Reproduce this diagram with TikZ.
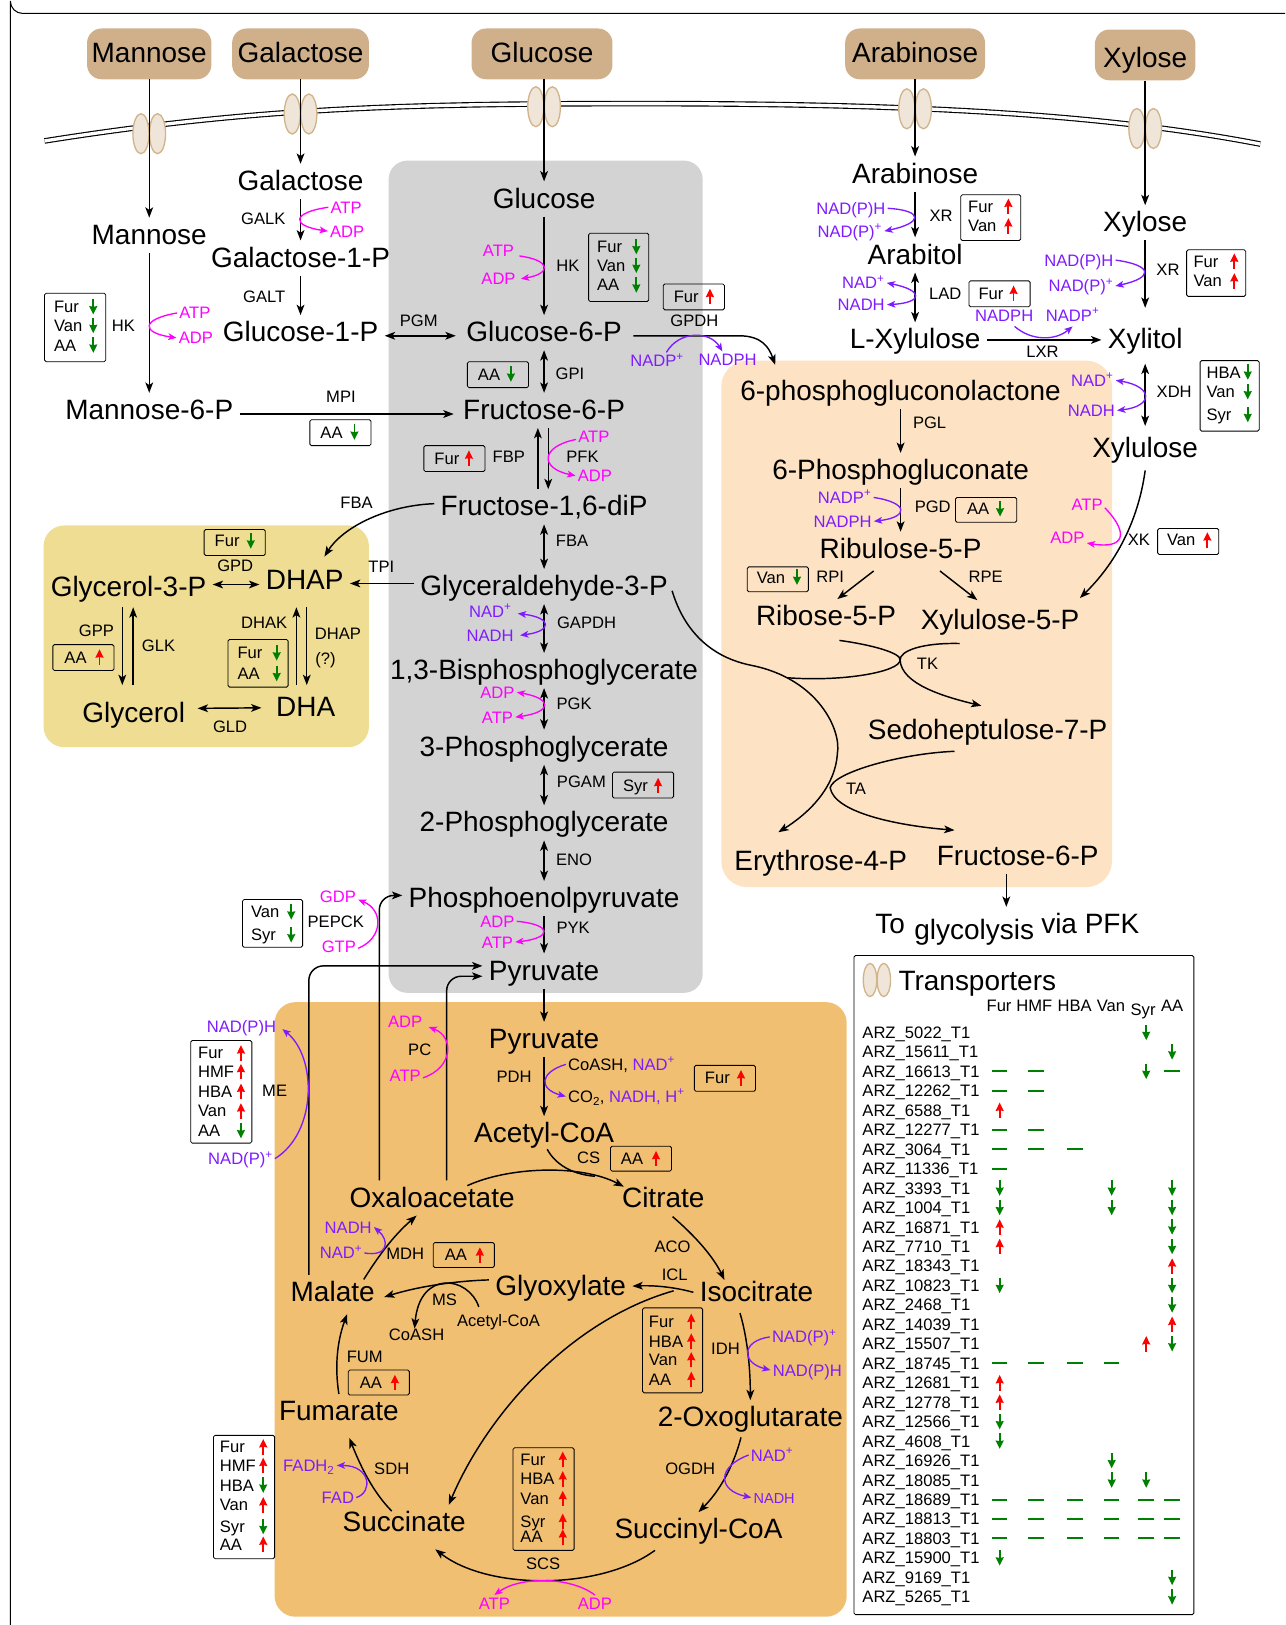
\documentclass[tikz,border=0pt]{standalone}
\usepackage{fontspec}
\setmainfont{Liberation Sans}
\usepackage{xcolor}
\definecolor{sugartan}{HTML}{CFB08A}
\definecolor{chanfill}{HTML}{EFE6D9}
\definecolor{chanedge}{HTML}{D2B48C}
\definecolor{glyco}{HTML}{D3D3D3}
\definecolor{pentose}{HTML}{FDE3C3}
\definecolor{glycerol}{HTML}{EEDD92}
\definecolor{tca}{HTML}{F0BF71}
\definecolor{cofmag}{HTML}{FF00FF}
\definecolor{cofpur}{HTML}{7F1BFF}
\definecolor{geneup}{HTML}{FF0000}
\definecolor{genedn}{HTML}{008000}
\usetikzlibrary{arrows.meta, shapes.geometric}
\newcommand{\pos}{\textsuperscript{+}}
% left, top, right, bottom, text inset, arrow x, rows (label/dir/y)
\newcommand{\exbox}[7]{%
  \draw[exprbox] (#1,#2) rectangle (#3,#4);
  \foreach \lab/\dir/\yy in {#7}{
    \node[exprtext] (\lab#1) at (#1+#5,\yy) {\lab};
    \draw[gene \dir] (#6,\yy-7.5) -- (#6,\yy+7.5);
  }
}
\tikzset{
  met/.style={font=\fontsize{27}{30}\selectfont, text height=19.5pt, text depth=2pt,
    inner xsep=6pt, inner ysep=6pt, yshift=-1pt},
  sugar/.style={font=\fontsize{27}{30}\selectfont, fill=sugartan, rounded corners=14pt,
    text height=19.5pt, text depth=3.5pt, inner sep=0pt, minimum height=49pt},
  enz/.style={font=\fontsize{16}{18}\selectfont, text height=11.5pt, text depth=0pt, inner sep=0pt},
  cof m/.style={enz, text=cofmag, inner sep=2pt},
  cof p/.style={enz, text=cofpur, inner sep=2pt},
  legrow/.style={enz, anchor=west},
  exprtext/.style={enz, anchor=west},
  exprbox/.style={draw=black, line width=0.8pt, rounded corners=1.5pt},
  channel/.style={ellipse, draw=chanedge, fill=chanfill, line width=1.3pt, inner sep=0pt,
    minimum width=15.5pt, minimum height=38.6pt},
  rxn/.style={line width=1.4pt, -{Stealth[length=10pt,width=7.5pt,inset=2.5pt]}},
  rxnb/.style={line width=1.4pt, {Stealth[length=10pt,width=7.5pt,inset=2.5pt]}-{Stealth[length=10pt,width=7.5pt,inset=2.5pt]}},
  arcm/.style={line width=1.3pt, cofmag, -{Stealth[length=8pt,width=6.5pt,inset=2pt]}},
  arcp/.style={line width=1.3pt, cofpur, -{Stealth[length=8pt,width=6.5pt,inset=2pt]}},
  arcmb/.style={line width=1.3pt, cofmag, {Stealth[length=8pt,width=6.5pt,inset=2pt]}-{Stealth[length=8pt,width=6.5pt,inset=2pt]}},
  arcpb/.style={line width=1.3pt, cofpur, {Stealth[length=8pt,width=6.5pt,inset=2pt]}-{Stealth[length=8pt,width=6.5pt,inset=2pt]}},
  gene u/.style={line width=1.8pt, geneup, {Stealth[length=8pt,width=7.5pt,inset=0.5pt]}-},
  gene d/.style={line width=1.8pt, genedn, -{Stealth[length=8pt,width=7.5pt,inset=0.5pt]}},
  gene f/.style={line width=2pt, genedn}
}
\begin{document}
\begin{tikzpicture}[x=1pt, y=-1pt]
  \useasboundingbox (0,0) rectangle (1240,1568);
  % frame and compartments
  \draw[line width=1pt] (1240,13) -- (22,13) arc[start angle=90, end angle=180, radius=12] -- (10,1568);
  \fill[glyco, rounded corners=18pt] (375,155) rectangle (678,958);
  \fill[pentose, rounded corners=25pt] (696,348) rectangle (1073,856);
  \fill[glycerol, rounded corners=20pt] (42,507) rectangle (356,721);
  \fill[tca, rounded corners=20pt] (265,967) rectangle (817,1560);
  \draw[line width=1.1pt, double=white, double distance=3.2pt]
    (43,136) .. controls (250,103) and (400,100) .. (620,100) .. controls (850,100) and (1050,107) .. (1216,139);

  % channels
  \foreach \cx/\cy [count=\i] in {144/129,290/110,525/103,883/105,1105/124}{
    \node[channel] (chL\i) at (\cx-8,\cy) {};
    \node[channel] (chR\i) at (\cx+8,\cy) {};
  }

  % sugars outside
  \foreach \name/\x/\y/\w/\txt in {manOut/144/52/120/Mannose, galOut/290/52/132/Galactose,
      gluOut/523/52/136/Glucose, araOut/883/52/135/Arabinose}{
    \node[sugar, minimum width=\w pt] (\name) at (\x,\y) {\txt};
  }
  \node[sugar, minimum width=97pt, text height=23.5pt, text depth=0pt] (xylOut) at (1105,53) {Xylose};

  % metabolites
  \foreach \name/\x/\y/\txt in {
      man/144/226/Mannose, m6p/144/395/Mannose-6-P,
      gal/290/174/Galactose, gal1p/290/248/Galactose-1-P, glc1p/290/320/Glucose-1-P,
      glu/525/191/Glucose, g6p/525/320/Glucose-6-P, f6p/525/395/Fructose-6-P,
      f16/525/488/{Fructose-1,6-diP}, gap/525/565/Glyceraldehyde-3-P,
      bpg/525/646/{1,3-Bisphosphoglycerate}, pg3/525/720/3-Phosphoglycerate,
      pg2/525/793/2-Phosphoglycerate, pep/525/866/Phosphoenolpyruvate, pyr/525/936/Pyruvate,
      ara/883/167/Arabinose, arl/883/245/Arabitol, lxy/883/327/L-Xylulose,
      xyl/1105/214/Xylose, xyt/1105/327/Xylitol, xlu/1105/432/Xylulose,
      lac/869/377/6-phosphogluconolactone, pgn/869/453/6-Phosphogluconate,
      ru5/869/529/Ribulose-5-P, r5p/797/594/Ribose-5-P, x5p/965/598/Xylulose-5-P,
      s7p/953/704/Sedoheptulose-7-P, e4p/792/830/Erythrose-4-P, f6q/982/825/Fructose-6-P,
      toA/859/891/To, toB/940/897/glycolysis, toC/1052/891/via PFK,
      g3p/124/566/Glycerol-3-P, dhap/294/559/DHAP, gly/129/687/Glycerol, dha/295/682/DHA,
      pyq/525/1002/Pyruvate, aco/525/1093/Acetyl-CoA, oxa/417/1155/Oxaloacetate,
      cit/640/1155/Citrate, mal/321/1246/Malate, glx/541/1240/Glyoxylate,
      iso/730/1246/Isocitrate, fum/327/1361/Fumarate, oxo/724/1367/2-Oxoglutarate,
      suc/390/1468/Succinate, sco/674/1475/Succinyl-CoA, trT/943/946/Transporters}{
    \node[met] (\name) at (\x,\y) {\txt};
  }

  % enzymes
  \foreach \name/\x/\y/\txt in {
      eGalk/254/211/GALK, eGalt/255/286/GALT, ePgm/404/309/PGM, eHkm/119/314/HK, eHkg/548/256/HK,
      eGpdh/670/309/GPDH, eGpi/550/360/GPI, eMpi/329/383/MPI, eFbp/491/441/FBP, ePfk/562/441/PFK,
      eFbaL/344/485/FBA, eFba/552/522/FBA, eGpd/227/546/GPD, eTpi/368/547/TPI, eGpp/93/608/GPP,
      eGlk/153/623/GLK, eDhak/255/601/DHAK, eDhap/326/611/DHAP, eQ/314/635/(?), eGld/222/701/GLD,
      eGapdh/566/601/GAPDH, ePgk/554/679/PGK, ePgam/561/754/PGAM, eEno/554/829/ENO,
      ePepck/324/889/PEPCK, ePyk/553/895/PYK, ePc/405/1013/PC, eMe/265/1052/ME, ePdh/496/1039/PDH,
      eCs/568/1117/CS, eAco/649/1203/ACO, eIcl/651/1230/ICL, eMdh/391/1210/MDH, eMs/429/1254/MS,
      acS/481/1274/Acetyl-CoA, coaS/402/1288/CoASH, eFum/352/1309/FUM, eIdh/700/1301/IDH,
      eOgdh/666/1417/OGDH, eSdh/378/1417/SDH, eScs/524/1509/SCS, eXra/908/208/XR, eLad/912/283/LAD,
      eLxr/1006/339/LXR, eXrx/1127/260/XR, eXdh/1133/378/XDH, eXk/1099/521/XK, ePgl/897/408/PGL,
      ePgd/900/489/PGD, eRpi/801/556/RPI, eRpe/951/556/RPE, eTk/895/640/TK, eTa/826/761/TA}{
    \node[enz] (\name) at (\x,\y) {\txt};
  }

  % cofactors
  \foreach \name/\x/\y/\txt in {
      atpGalk/334/200/ATP, adpGalk/335/223/ADP, atpMan/188/302/ATP, adpMan/189/326/ADP,
      atpHk/481/242/ATP, adpHk/481/269/ADP, atpPfk/573/421/ATP, adpPfk/574/459/ADP,
      adpPgk/480/668/ADP, atpPgk/480/692/ATP, adpPyk/480/889/ADP, atpPyk/480/909/ATP,
      gdpPck/326/865/GDP, gtpPck/327/913/GTP, adpPc/391/986/ADP, atpPc/391/1038/ATP,
      atpScs/477/1547/ATP, adpScs/574/1547/ADP, atpXk/1049/487/ATP, adpXk/1030/519/ADP}{
    \node[cof m] (\name) at (\x,\y) {\txt};
  }
  \foreach \name/\x/\y/\txt in {
      nadpG/634/348/{NADP\pos}, nadphG/702/347/NADPH, nadGa/473/590/{NAD\pos}, nadhGa/473/613/NADH,
      meH/233/991/NAD(P)H, mePos/232/1118/{NAD(P)\pos}, nadMd/329/1209/{NAD\pos}, nadhMd/336/1184/NADH,
      fadh/298/1414/{FADH\textsubscript{2}}, fad/326/1445/FAD, nadOg/745/1404/{NAD\pos},
      idhPos/776/1290/{NAD(P)\pos}, idhH/779/1322/NAD(P)H, arH/821/201/NAD(P)H, arPos/820/223/{NAD(P)\pos},
      nadLad/833/273/{NAD\pos}, nadhLad/831/294/NADH, nadphLx/969/304/NADPH, nadpLx/1035/304/{NADP\pos},
      xrH/1041/251/NAD(P)H, xrPos/1043/276/{NAD(P)\pos}, nadXd/1054/367/{NAD\pos}, nadhXd/1053/396/NADH,
      nadpPg/815/480/{NADP\pos}, nadphPg/813/503/NADPH}{
    \node[cof p] (\name) at (\x,\y) {\txt};
  }
  \node[cof p, font=\fontsize{14}{16}\selectfont] (nadhOg) at (747,1445) {NADH};
  \node[enz, anchor=west, inner sep=2pt] (coaNad) at (546,1027) {CoASH, \textcolor{cofpur}{NAD\pos}};
  \node[enz, anchor=west, inner sep=2pt] (coNadh) at (546,1058) {CO\textsubscript{2}, \textcolor{cofpur}{NADH, H\pos}};

  % expression boxes
  \exbox{43}{283}{102}{349}{9}{90}{Fur/d/296,Van/d/314,AA/d/333}
  \exbox{568}{225}{626}{291}{8}{614}{Fur/d/238,Van/d/256,AA/d/275}
  \exbox{640}{274}{699}{299}{10}{685}{Fur/u/286}
  \exbox{451}{349}{510}{374}{10}{493}{AA/d/361}
  \exbox{299}{405}{358}{430}{10}{342}{AA/d/417}
  \exbox{409}{430}{468}{455}{10}{452.5}{Fur/u/442}
  \exbox{591}{745}{650}{770}{10}{635}{Syr/u/758}
  \exbox{234}{868}{292}{914}{8}{281}{Van/d/880,Syr/d/902}
  \exbox{197}{511}{256}{536}{10}{242}{Fur/d/522}
  \exbox{51}{622}{110}{647}{11}{96}{AA/u/634}
  \exbox{220}{617}{278}{663}{9}{267}{Fur/d/630,AA/d/650}
  \exbox{927}{188}{985}{232}{7}{973}{Fur/u/199,Van/u/218}
  \exbox{935}{271}{994}{296}{9}{978}{Fur/u/283}
  \exbox{1145}{241}{1202}{286}{6.5}{1191}{Fur/u/252,Van/u/271}
  \exbox{1158}{348}{1215}{416}{6}{1204}{HBA/d/359,Van/d/378,Syr/d/400}
  \exbox{922}{480}{981}{504}{11}{965}{AA/d/491}
  \exbox{721}{547}{780}{571}{9}{769}{Van/d/557}
  \exbox{1117}{510}{1176}{535}{9}{1165}{Van/u/521}
  \exbox{184}{1004}{243}{1103}{7}{232.5}{Fur/u/1016,HMF/u/1034,HBA/u/1053,Van/u/1072,AA/d/1091}
  \exbox{495}{1397}{554}{1496}{7}{543}{Fur/u/1408,HBA/u/1427,Van/u/1446,Syr/u/1468,AA/u/1483}
  \exbox{206}{1385}{265}{1504}{6}{254}{Fur/u/1396,HMF/u/1414,HBA/d/1433,Van/u/1452,Syr/d/1473,AA/u/1490}
  \exbox{620}{1262}{678}{1344}{6}{667}{Fur/u/1275,HBA/u/1294,Van/u/1312,AA/u/1331}
  \exbox{670}{1028}{729}{1053}{10}{715}{Fur/u/1040}
  \exbox{589}{1106}{648}{1130}{10}{633}{AA/u/1118}
  \exbox{418}{1199}{477}{1223}{11}{463}{AA/u/1211}
  \exbox{336}{1322}{395}{1346}{11}{381}{AA/u/1334}

  % uptake
  \draw[rxn] (manOut.south) -- (man.north);
  \draw[rxn] (galOut.south) -- (gal.north);
  \draw[rxn] (gluOut.south -| glu) -- (glu.north);
  \draw[rxn] (araOut.south) -- (ara.north);
  \draw[rxn] (xylOut.south) -- (xyl.north);

  % sugar entry
  \draw[rxn] (man.south) -- (m6p.north);
  \draw[rxn] (gal.south) -- (gal1p.north);
  \draw[rxn] (gal1p.south) -- (glc1p.north);
  \draw[rxnb] ([yshift=-3]glc1p.east) -- ([xshift=-4,yshift=-3]g6p.west);
  \draw[rxn] ([yshift=-3.5]m6p.east) -- ([xshift=-3,yshift=-3.5]f6p.west);

  % glycolysis
  \draw[rxn] (glu.south) -- (g6p.north);
  \draw[rxnb] (g6p.south) -- (f6p.north);
  \draw[rxn] ([xshift=-6]f16.north) -- ([xshift=-6]f6p.south);
  \draw[rxn] ([xshift=4]f6p.south) -- ([xshift=4]f16.north);
  \draw[rxnb] (f16.south) -- (gap.north);
  \draw[rxnb] (gap.south) -- (bpg.north);
  \draw[rxnb] (bpg.south) -- (pg3.north);
  \draw[rxnb] (pg3.south) -- (pg2.north);
  \draw[rxnb] (pg2.south) -- (pep.north);
  \draw[rxn] (pep.south) -- (pyr.north);
  \draw[rxn] (pyr.south) -- (pyq.north);
  \draw[rxn] (f16.west) ++(0,-3) .. controls (370,488) and (330,510) .. ([xshift=19,yshift=6]dhap.north);
  \draw[rxn] ([yshift=3]gap.west) -- ([yshift=-3]dhap.east);

  % glycerol
  \draw[rxnb] ([yshift=3]g3p.east) -- ([yshift=-4]dhap.west);
  \draw[rxnb] ([xshift=6,yshift=4.5]gly.east) -- ([xshift=-8]dha.west);
  \draw[rxn] ([xshift=-6,yshift=-2]g3p.south) -- ([xshift=-11,yshift=10]gly.north);
  \draw[rxn] ([xshift=-0.5,yshift=10]gly.north) -- ([xshift=4.5,yshift=-2]g3p.south);
  \draw[rxn] ([xshift=-9,yshift=5]dha.north) -- ([xshift=-8,yshift=-9]dhap.south);
  \draw[rxn] ([xshift=2,yshift=-9]dhap.south) -- ([xshift=1,yshift=5]dha.north);

  % pentoses
  \draw[rxn] (ara.south) -- (arl.north);
  \draw[rxnb] (arl.south) -- (lxy.north);
  \draw[rxn] (lxy.east) -- (xyt.west);
  \draw[rxn] (xyl.south) -- ([yshift=14]xyt.north);
  \draw[rxnb] ([yshift=-6]xyt.south) -- ([yshift=5]xlu.north);
  \draw[rxn] ([yshift=-4]xlu.south) .. controls (1098,505) and (1075,545) .. ([xshift=77,yshift=5]x5p.north);
  \draw[rxn] (lac.south) -- (pgn.north);
  \draw[rxn] (pgn.south) -- (ru5.north);
  \draw[rxn] ([xshift=-26,yshift=-4]ru5.south) -- ([xshift=11]r5p.north);
  \draw[rxn] ([xshift=38,yshift=-4]ru5.south) -- ([xshift=-22,yshift=3]x5p.north);
  \draw[rxn] ([xshift=5,yshift=-3]g6p.east) -- (713,324) .. controls (735,324) and (742,335) .. ([xshift=-121,yshift=9]lac.north);
  \coordinate (tkhub) at (868.5,637);
  \coordinate (tkjoin) at (760,654);
  \draw[line width=1.4pt] ([xshift=13,yshift=-6]r5p.south) .. controls (840,622) and (870,630) .. (tkhub)
    .. controls (868,648) and (815,658) .. (tkjoin);
  \draw[rxn] ([xshift=-39,yshift=-5]x5p.south) .. controls (890,620) and (868,628) .. (tkhub)
    .. controls (870,660) and (910,672) .. ([xshift=-6,yshift=7]s7p.north);
  \draw[rxn] ([xshift=-2,yshift=-4]gap.east) .. controls (665,625) and (705,638) .. (725,642)
    .. controls (790,655) and (812,705) .. (808,727) .. controls (806,760) and (780,785) .. ([xshift=-41,yshift=11]e4p.north);
  \coordinate (tahub) at (801,760);
  \draw[rxn] ([xshift=-32,yshift=-3]s7p.south) .. controls (870,727) and (805,745) .. (tahub)
    .. controls (805,785) and (870,797) .. ([xshift=-61,yshift=8]f6q.north);
  \draw[rxn] ([xshift=-11]f6q.south) -- ([xshift=31,yshift=6]toB.north);

  % TCA cycle
  \coordinate (csjoin) at (574,1135);
  \draw[rxn] (pyq.south) -- (aco.north);
  \draw[line width=1.4pt] ([xshift=3,yshift=2]aco.south) .. controls (535,1122) and (550,1133) .. (csjoin);
  \draw[rxn] ([xshift=34,yshift=-5]oxa.north) .. controls (490,1126) and (560,1123) .. ([xshift=-38,yshift=-6]cit.north);
  \draw[rxn] ([xshift=9,yshift=-1]cit.south) .. controls (670,1192) and (688,1212) .. ([xshift=-31,yshift=-5]iso.north);
  \draw[rxn] (iso.west) .. controls (655,1243) and (635,1240) .. (glx.east);
  \draw[rxn] ([xshift=-19,yshift=1.5]iso.west) .. controls (550,1274) and (470,1365) .. ([xshift=43]suc.north);
  \draw[rxn] ([yshift=6]glx.west) .. controls (440,1236) and (405,1241) .. ([xshift=3,yshift=-4.5]mal.east);
  \draw[rxn] ([xshift=-19,yshift=7]acS.north) .. controls (452,1231) and (405,1225) .. ([xshift=-2]coaS.north);
  \draw[rxn] ([xshift=30,yshift=-4.5]mal.north) .. controls (365,1212) and (380,1192) .. ([xshift=-15]oxa.south);
  \draw[rxn] (fum.north) .. controls (323,1320) and (325,1295) .. ([xshift=14,yshift=-4]mal.south);
  \draw[rxn] ([xshift=-12,yshift=-6]suc.north) .. controls (360,1440) and (348,1415) .. ([xshift=10,yshift=-8.5]fum.south);
  \draw[rxn] ([xshift=-42,yshift=-3]sco.south) .. controls (580,1534) and (472,1535) .. ([xshift=30,yshift=-9]suc.south);
  \draw[rxn] ([xshift=-9,yshift=-2]oxo.south) .. controls (708,1414) and (695,1438) .. (sco.north);
  \draw[rxn] ([xshift=-16,yshift=-3]iso.south) .. controls (721,1290) and (724,1320) .. (oxo.north);
  \draw[rxn, rounded corners=14pt] ([xshift=-23]mal.north) |- ([yshift=5]pyr.west);
  \draw[rxn, rounded corners=14pt] ([xshift=14]oxa.north) |- ([yshift=-5]pyr.west);
  \draw[rxn, rounded corners=14pt] ([xshift=-51]oxa.north) |- ([yshift=3]pep.west);

  % cofactor arcs
  \draw[arcm] (atpGalk.west) .. controls (281,205) and (281,218) .. (adpGalk.west);
  \draw[arcm] (atpMan.west) .. controls (136,308) and (136,321) .. (adpMan.west);
  \draw[arcm] ([xshift=3,yshift=-5]atpHk.east) .. controls (532,251) and (532,264) .. ([xshift=3]adpHk.east);
  \draw[arcp] ([xshift=9]nadpG.north) .. controls (655,319) and (685,319) .. ([xshift=-5]nadphG.north);
  \draw[arcm] ([yshift=-3]atpPfk.west) .. controls (521,431) and (521,452) .. (adpPfk.west);
  \draw[arcpb] ([xshift=4,yshift=-2]nadGa.east) .. controls (533,596) and (533,609) .. ([xshift=4]nadhGa.east);
  \draw[arcmb] (adpPgk.east) .. controls (533,674) and (533,687) .. (atpPgk.east);
  \draw[arcm] (adpPyk.east) .. controls (533,892) and (533,905) .. (atpPyk.east);
  \draw[arcm] ([yshift=-2]gtpPck.east) .. controls (370,905) and (370,878) .. ([yshift=-3]gdpPck.east);
  \draw[arcm] ([yshift=-2]atpPc.east) .. controls (438,1030) and (438,1000) .. ([xshift=4,yshift=-5]adpPc.east);
  \draw[arcp] (mePos.east) .. controls (306,1093) and (306,1020) .. ([xshift=4,yshift=-2]meH.east);
  \draw[arcp] (coaNad.west) .. controls (520,1035) and (520,1051) .. (coNadh.west);
  \draw[arcm] (adpScs.north) .. controls (550,1521) and (502,1521) .. (atpScs.north);
  \draw[arcp] (nadOg.west) .. controls (692,1415) and (692,1438) .. (nadhOg.west);
  \draw[arcp] (idhPos.west) .. controls (715,1294) and (715,1315) .. (idhH.west);
  \draw[arcp] (nadMd.east) .. controls (375,1213) and (376,1197) .. (nadhMd.east);
  \draw[arcp] (fad.east) .. controls (360,1440) and (358,1414) .. (fadh.east);
  \draw[arcp] (arH.east) .. controls (891,203) and (891,215) .. (arPos.east);
  \draw[arcpb] (nadLad.east) .. controls (891,280) and (891,292) .. (nadhLad.east);
  \draw[arcp] ([xshift=10,yshift=-3]nadphLx.south) .. controls (995,329) and (1018,329) .. ([yshift=-3]nadpLx.south);
  \draw[arcp] (xrH.east) .. controls (1113,256) and (1113,268) .. (xrPos.east);
  \draw[arcpb] (nadXd.east) .. controls (1113,373) and (1113,392) .. (nadhXd.east);
  \draw[arcp] (nadpPg.east) .. controls (877,485) and (877,499) .. (nadphPg.east);
  \draw[arcm] ([yshift=-3]atpXk.east) .. controls (1090,515) and (1085,530) .. ([yshift=-5]adpXk.east);

  % legend
  \draw[exprbox] (824,922) rectangle (1152,1558);
  \node[channel, minimum width=13pt, minimum height=32pt] (legL) at (839.5,945.6) {};
  \node[channel, minimum width=13pt, minimum height=32pt] (legR) at (852.8,945.6) {};
  \foreach \name/\x/\y in {Fur/964/970,HMF/998/970,HBA/1037/970,Van/1072/970,Syr/1103/974,AA/1131/970}{
    \node[enz] (hd\name) at (\x,\y) {\name};
  }
  \foreach \cx [count=\c] in {964.6,999.4,1037.3,1072.7,1106,1131}{
    \coordinate (col\c) at (\cx,0);
  }
  \foreach \id [count=\r] in {5022,15611,16613,12262,6588,12277,3064,11336,3393,1004,
      16871,7710,18343,10823,2468,14039,15507,18745,12681,12778,
      12566,4608,16926,18085,18689,18813,18803,15900,9169,5265}{
    \node[legrow] (tr\r) at (832,{996.2+18.78*(\r-1)}) {ARZ\_\id\_T1};
  }
  \foreach \c/\r in {5/1,6/2,5/3,1/9,4/9,6/9,1/10,4/10,6/10,6/11,6/12,1/14,6/14,6/15,6/17,
      1/21,1/22,4/23,4/24,5/24,1/28,6/29,6/30}{
    \draw[gene d] ([yshift=7.5]col\c |- tr\r) -- ([yshift=-7.5]col\c |- tr\r);
  }
  \foreach \c/\r in {1/5,1/11,1/12,6/13,6/16,5/17,1/19,1/20}{
    \draw[gene u] ([yshift=7.5]col\c |- tr\r) -- ([yshift=-7.5]col\c |- tr\r);
  }
  \foreach \c/\r in {1/3,2/3,6/3,1/4,2/4,1/6,2/6,1/7,2/7,3/7,1/8,1/18,2/18,3/18,4/18,
      1/25,2/25,3/25,4/25,5/25,6/25,1/26,2/26,3/26,4/26,5/26,6/26,1/27,2/27,3/27,4/27,5/27,6/27}{
    \draw[gene f] ([xshift=-7.5]col\c |- tr\r) -- ([xshift=7.5]col\c |- tr\r);
  }
\end{tikzpicture}
\end{document}
